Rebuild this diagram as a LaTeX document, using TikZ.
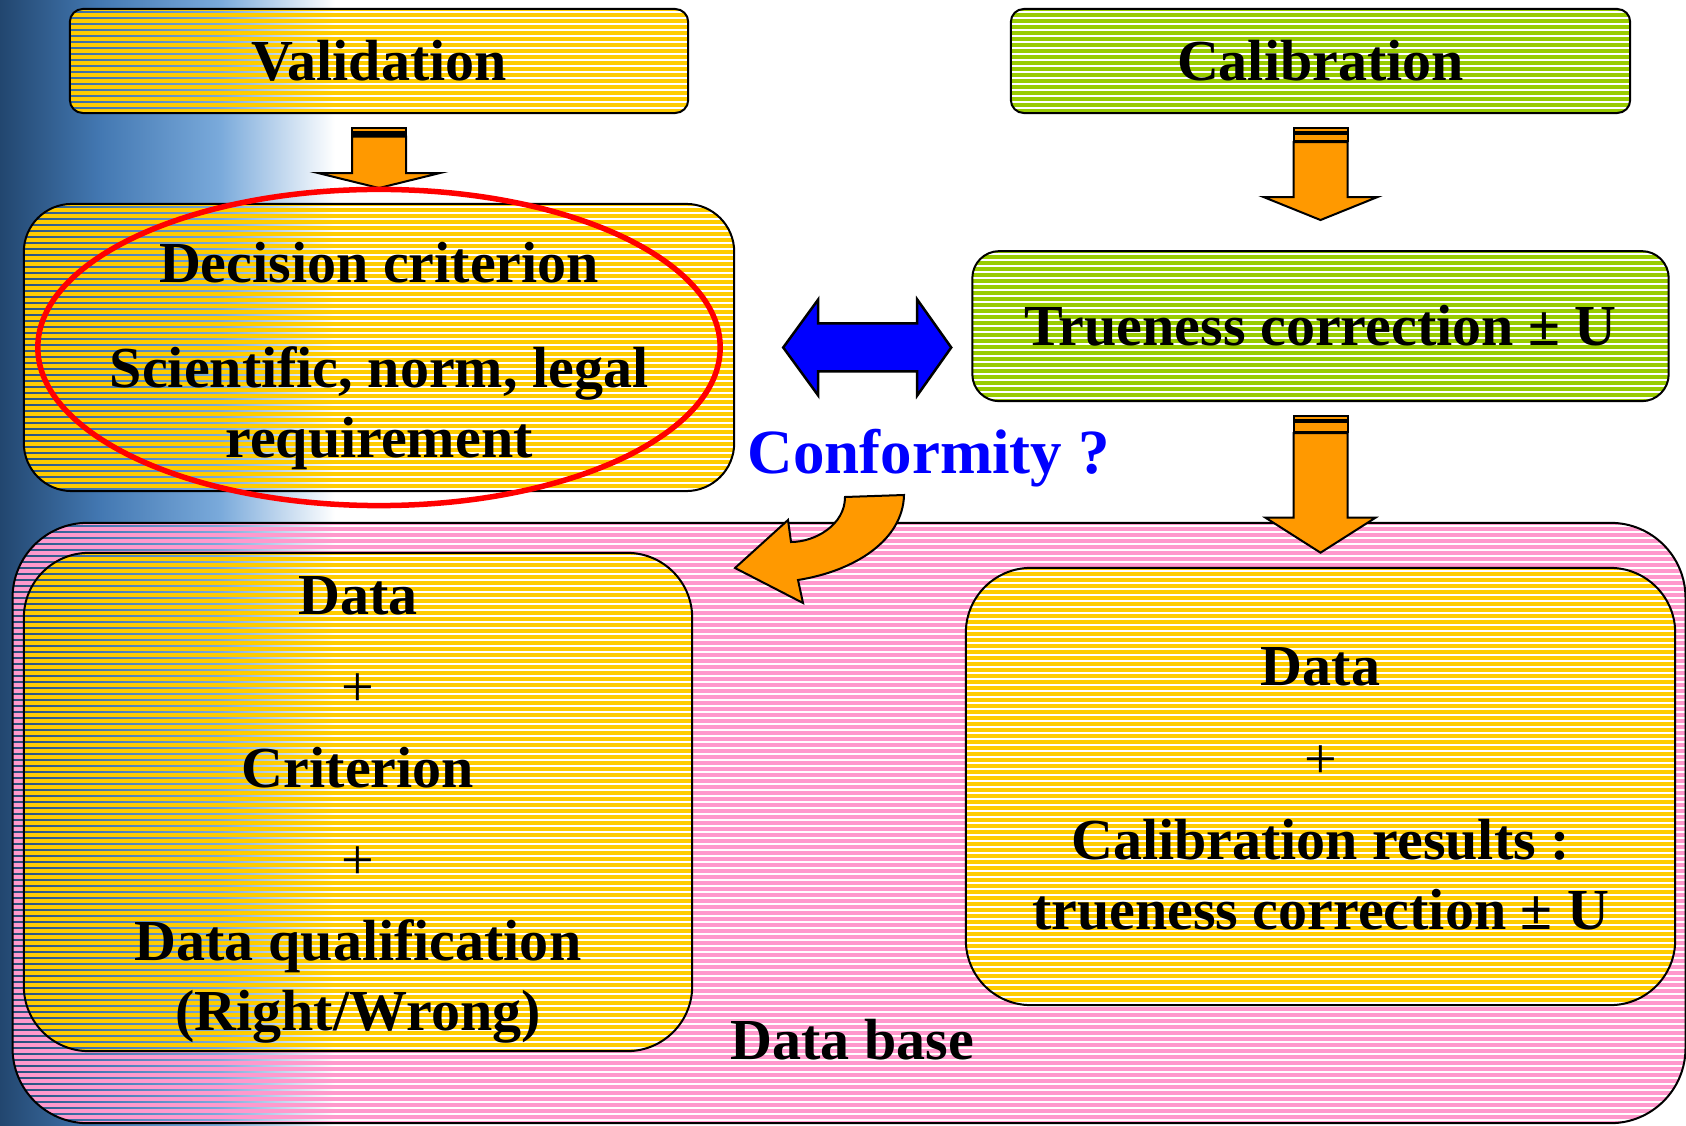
\documentclass[tikz,border=0pt]{standalone}
\usepackage{fontspec}
\setmainfont{Liberation Serif}
\usetikzlibrary{calc,positioning}

\definecolor{boxyellow}{HTML}{FFCC00}
\definecolor{boxgreen}{HTML}{99CC00}
\definecolor{boxpink}{HTML}{FF99CC}
\definecolor{arroworange}{HTML}{FF9900}
\definecolor{skydark}{HTML}{22466F}
\definecolor{skymid}{HTML}{4378B2}
\definecolor{skylight}{HTML}{7AAADB}

\newcommand\boxfont{\fontsize{16.5}{19.9}\selectfont\bfseries}
\newcommand\plusline{\raisebox{-0.06cm}{\mdseries +}}

% sky photo on the left edge
\newcommand\skypaint{%
  \shade[sharp corners, left color=skydark, right color=skymid] (sky0) rectangle (sky1);
  \shade[sharp corners, left color=skymid, right color=skylight] (sky1 |- sky0) rectangle (sky2);
  \shade[sharp corners, left color=skylight, right color=white] (sky2 |- sky0) rectangle (sky3);
}

% striped block arrow: top point, 2nd bar height, shaft length, head height, head half width
\newcommand\stripedarrow[5]{%
  \filldraw[blockarrow] (#1) ++(-27,0) rectangle ++(54,4);
  \filldraw[blockarrow] (#1) ++(-27,5.5) rectangle ++(54,#2);
  \filldraw[blockarrow] (#1) ++(-27,7+#2) -- ++(0,#3) -- ++(27-#5,0) -- ++(#5,#4)
    -- ++(#5,-#4) -- ++(27-#5,0) -- ++(0,-#3) -- cycle;
}

\tikzset{
  stripes/.style={path picture={
      \fill[white, sharp corners] (path picture bounding box.north west) rectangle (path picture bounding box.south east);
      \skypaint
      \foreach \k in {0,...,101}
        \draw[#1, line width=0.045cm] ([yshift=-\k*0.06cm]path picture bounding box.north west)
          -- ([yshift=-\k*0.06cm]path picture bounding box.north east);
    }},
  basebox/.style={draw=black, line width=0.02cm, inner sep=0pt, outer sep=0pt,
    font=\boxfont, align=center},
  blockarrow/.style={fill=arroworange, draw=black, line width=0.02cm},
  txt/.style={font=\boxfont, align=center, inner sep=0pt},
}

\begin{document}
\begin{tikzpicture}[x=0.01cm, y=-0.01cm]
\useasboundingbox (0,0) rectangle (1686,1125);
\coordinate (sky0) at (0,0);
\coordinate (sky1) at (100,1125);
\coordinate (sky2) at (220,1125);
\coordinate (sky3) at (335,1125);
\fill[white] (0,0) rectangle (1686,1125);
\skypaint

% boxes
\node[basebox, stripes=boxpink, rounded corners=0.75cm, minimum width=16.72cm, minimum height=6cm] (database) at (849,823) {};
\node[basebox, stripes=boxyellow, rounded corners=0.65cm, minimum width=6.68cm, minimum height=4.98cm] (leftdata) at (358,802) {};
\node[basebox, stripes=boxyellow, rounded corners=0.65cm, minimum width=7.09cm, minimum height=4.37cm] (rightdata) at (1320.5,786.5) {};
\node[basebox, stripes=boxyellow, rounded corners=0.13cm, minimum width=6.18cm, minimum height=1.04cm] (validation) at (379,61) {Validation};
\node[basebox, stripes=boxgreen, rounded corners=0.13cm, minimum width=6.19cm, minimum height=1.04cm] (calibration) at (1320.5,61) {Calibration};
\node[basebox, stripes=boxyellow, rounded corners=0.48cm, minimum width=7.10cm, minimum height=2.87cm] (decision) at (379,347.5) {};
\node[basebox, stripes=boxgreen, rounded corners=0.27cm, minimum width=6.96cm, minimum height=1.50cm, below=1.38cm of calibration] (trueness) {Trueness correction ± U};

% arrows
\coordinate (vatop) at ($(validation.south)+(0,15)$);
\stripedarrow{vatop}{1.5}{36.5}{15}{61}
\coordinate (catop) at ($(calibration.south)+(0,15)$);
\stripedarrow{catop}{7}{55}{23}{57}
\coordinate (trtop) at ($(trueness.south)+(0,15)$);
\stripedarrow{trtop}{10}{84.5}{35}{55}

\coordinate (dbl) at ($(decision.east)+(49,0)$);
\filldraw[fill=blue, draw=black, line width=0.025cm] (dbl) -- ++(35,-48) -- ++(0,24) -- ++(99,0) -- ++(0,-24) -- ++(34,48)
  -- ++(-34,48) -- ++(0,-24) -- ++(-99,0) -- ++(0,24) -- cycle;

\filldraw[blockarrow] (845,497) .. controls (845,525) and (815,542) .. (791,542) -- (788,520) -- (735,568) -- (803,603)
  -- (798,580) .. controls (855,571) and (903,540) .. (904,495) -- cycle;

\draw[red, line width=0.055cm] (decision.center) ellipse [x radius=3.41cm, y radius=1.58cm];

% texts
\node[txt] (decisiontext) at ([yshift=-0.083cm]decision.center) {Decision criterion\\[0.35cm]Scientific, norm, legal\\requirement};
\node[txt] (lefttext) at ([yshift=-0.076cm]leftdata.center) {Data\\[0.165cm]\plusline\\[0.165cm]Criterion\\[0.165cm]\plusline\\[0.165cm]Data qualification\\(Right/Wrong)};
\node[txt] (righttext) at ([yshift=-0.023cm]rightdata.center) {Data\\[0.17cm]\plusline\\[0.17cm]Calibration results :\\trueness correction ± U};
\node[txt, anchor=base west] (dbtitle) at (730,1059) {Data base};
\node[anchor=base west, inner sep=0pt, text=blue, font=\fontsize{17.9}{21}\selectfont\bfseries] (conformity) at (747,474) {Conformity ?};
\end{tikzpicture}
\end{document}
